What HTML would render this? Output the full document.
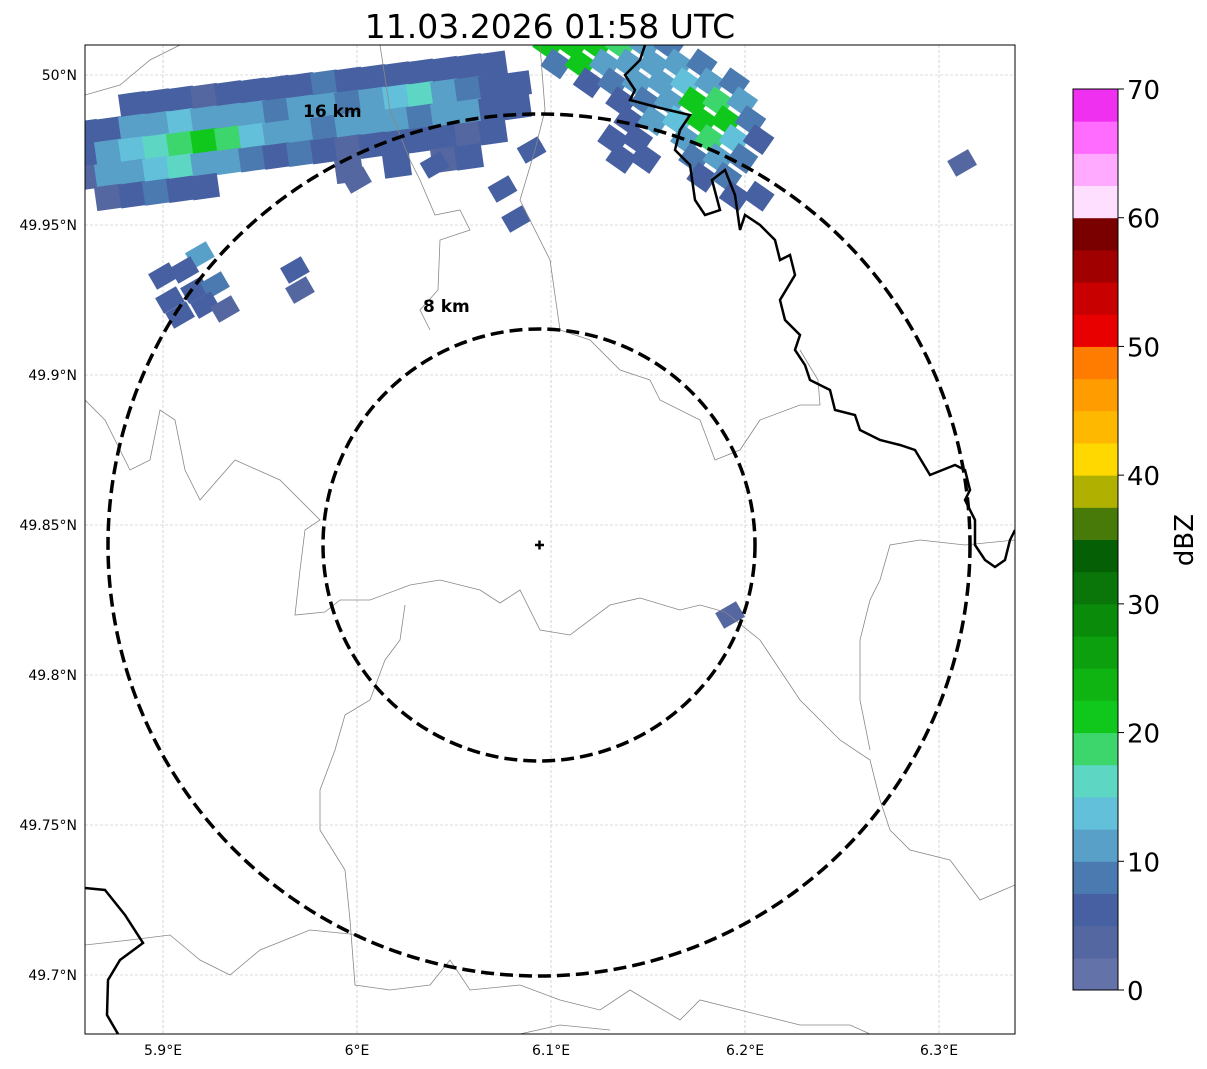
<!DOCTYPE html>
<html><head><meta charset="utf-8"><style>
html,body{margin:0;padding:0;background:#fff;}
svg{display:block;font-family:"DejaVu Sans","Liberation Sans",sans-serif;}
</style></head><body>
<svg id="chart" width="1207" height="1069" viewBox="0 0 1207 1069" xmlns="http://www.w3.org/2000/svg">
<defs><clipPath id="plotclip"><rect x="85" y="45" width="930" height="989"/></clipPath></defs>
<text x="550" y="38" font-size="33" text-anchor="middle">11.03.2026 01:58 UTC</text>
<rect x="85" y="45" width="930" height="989" fill="#fff"/>
<g id="grid"></g>
<g id="radar" clip-path="url(#plotclip)"></g>
<g clip-path="url(#plotclip)" fill="none" stroke="#888" stroke-width="0.8">
<path d="M85,95 L120,85 L150,60 L180,45"/>
<path d="M380,45 L390,110 L410,160 L420,180 L435,215 L460,210 L470,230 L440,240 L438,290 L420,310 L430,330"/>
<path d="M540,45 L545,110 L535,150 L520,200 L550,260 L560,330 L590,340 L620,370 L650,380 L660,400 L700,420 L715,460 L740,450 L760,420 L800,405 L820,405 L818,380 L800,350"/>
<path d="M85,400 L105,420 L130,470 L150,460 L160,410 L175,420 L185,470 L200,500 L235,460 L280,480 L320,520 L305,530 L300,570 L295,615 L325,612 L340,600 L370,600 L410,585 L440,580 L480,590 L500,603 L520,590 L540,630 L570,635 L610,605 L640,598 L680,610 L700,605 L725,612"/>
<path d="M405,605 L400,640 L385,660 L370,700 L345,715 L335,750 L320,790 L320,830 L345,870 L350,920 L355,985 L390,990 L430,985 L450,960 L470,990 L520,985 L560,1000 L600,1010 L630,990 L680,1020 L700,1000 L740,1010 L800,1025 L850,1025 L870,1034"/>
<path d="M85,945 L130,940 L170,935 L200,960 L230,975 L260,950 L310,930 L360,935"/>
<path d="M725,612 L760,640 L800,700 L840,740 L870,760 L880,800 L890,830 L910,850 L950,860 L980,900 L1015,885"/>
<path d="M1015,540 L965,545 L920,540 L890,545 L880,580 L870,600 L860,640 L860,700 L870,750"/>
<path d="M520,1034 L560,1025 L610,1030"/>
</g>
<g clip-path="url(#plotclip)" fill="none" stroke="#000" stroke-width="2.5">
<path d="M645,45 L640,60 L625,75 L635,90 L630,100 L660,108 L690,115 L680,130 L675,150 L690,165 L695,200 L705,215 L720,210 L712,180 L725,170 L735,195 L740,230 L745,215 L760,225 L775,240 L780,260 L790,255 L795,275 L780,300 L785,320 L800,335 L795,350 L805,365 L810,380 L830,390 L835,410 L855,415 L860,430 L880,440 L900,445 L915,450 L930,475 L955,465 L965,470 L970,490 L965,500 L975,520 L975,545 L985,560 L995,567 L1005,560 L1010,540 L1015,530"/>
<path d="M85,888 L105,890 L125,915 L143,943 L120,960 L108,980 L107,1015 L118,1034"/>
</g>
<g fill="none" stroke="#000" stroke-width="3.5" stroke-dasharray="13,6">
<circle cx="539" cy="545" r="216"/>
<circle cx="539" cy="545" r="431"/>
</g>
<path d="M535,545 H544 M539.5,540.5 V549.5" stroke="#000" stroke-width="2.5"/>
<text x="303" y="117" font-size="17" font-weight="bold">16 km</text>
<text x="423" y="312" font-size="17" font-weight="bold">8 km</text>
<rect x="85" y="45" width="930" height="989" fill="none" stroke="#000" stroke-width="1"/>
<g id="axes" font-size="14"></g>
<g id="cbar"></g>
<text x="0" y="0" font-size="26" text-anchor="middle" transform="translate(1193,540) rotate(-90)">dBZ</text>
</svg>
<script>
const lonTicks=[5.9,6.0,6.1,6.2,6.3];
const lonLabels=["5.9°E","6°E","6.1°E","6.2°E","6.3°E"];
const latTicks=[50,49.95,49.9,49.85,49.8,49.75,49.7];
const latLabels=["50°N","49.95°N","49.9°N","49.85°N","49.8°N","49.75°N","49.7°N"];
const cbarTicks=[0,10,20,30,40,50,60,70];
const cbarColors=["#6372a8","#5467a0","#4660a2","#4b7ab0","#58a0c8","#62c0da","#5dd6c4","#3cd66c","#10c81c","#10b412","#0ca00e","#0a8c0a","#0a760a","#055f05","#487a0a","#b0b000","#ffd800","#ffb800","#ff9c00","#ff7c00","#e80000","#c80000","#a00000","#7a0000","#ffdfff","#ffaaff","#ff6cff","#f030f0"];
const bandA=[
[-1,-1,5,6,5,4,6,5,7,6,8,6,5,7,6,5,6,5,-1],
[5,6,10,12,14,12,10,12,8,10,12,9,10,14,16,12,8,6,5],
[6,12,14,15,18,22,19,14,12,10,8,10,12,10,8,12,10,6,5],
[4,10,12,14,15,12,10,8,6,8,6,4,5,6,5,6,4,5,-1],
[-1,4,6,8,6,5,-1,-1,-1,-1,-1,4,-1,5,-1,4,6,-1,-1]];
const bandB=[
[20,22,21,18,10,8,-1,-1],
[8,20,12,10,12,10,8,-1],
[-1,6,8,10,12,14,10,8],
[-1,-1,6,8,12,20,18,10],
[-1,-1,6,10,14,22,20,8],
[-1,5,6,-1,12,18,14,6],
[-1,6,5,-1,8,10,8,-1],
[-1,-1,-1,-1,6,8,-1,-1],
[-1,-1,-1,-1,-1,6,5,-1]];
const cells=[[5.9036,49.925,6],[5.9165,49.9283,5],[5.9268,49.93,8],[5.9088,49.92,6],[5.9216,49.9233,5],[5.932,49.922,4],[5.919,49.94,10],[5.9,49.933,6],[5.911,49.935,7],[5.9706,49.9283,4],[5.968,49.935,5],[6.1923,49.82,4],[6.3119,49.9707,4],[6.075,49.962,5],[6.082,49.952,5],[6.09,49.975,6],[6.04,49.97,5],[6.0,49.965,4]];
const X=lon=>163+(lon-5.9)*1940;
const Y=lat=>75+(50-lat)*3000;
const NS="http://www.w3.org/2000/svg";
const col=v=>cbarColors[Math.max(0,Math.min(27,Math.floor(v/2.5)))];
const radar=document.getElementById('radar');
function cell(lon,lat,v,w,h,rot){
  if(v<0)return;
  const r=document.createElementNS(NS,'rect');
  const x=X(lon),y=Y(lat);
  r.setAttribute('x',x-w/2);r.setAttribute('y',y-h/2);
  r.setAttribute('width',w);r.setAttribute('height',h);
  r.setAttribute('fill',col(v));
  r.setAttribute('transform','rotate('+rot+' '+x+' '+y+')');
  
  
  radar.appendChild(r);
}
bandA.forEach((row,j)=>row.forEach((v,i)=>cell(5.8598+0.01237*i,49.9883+0.0009*i-0.0075*j,v,27,24,-8)));
bandB.forEach((row,c)=>row.forEach((v,r)=>cell(6.0985+0.0125*r+0.0042*c,50.01-0.0063*c,v,24,21,35)));
cells.forEach(c=>cell(c[0],c[1],c[2],24,18,-30));
const grid=document.getElementById('grid'),axes=document.getElementById('axes');
lonTicks.forEach((t,i)=>{
  const x=X(t);
  const l=document.createElementNS(NS,'line');
  l.setAttribute('x1',x);l.setAttribute('x2',x);l.setAttribute('y1',45);l.setAttribute('y2',1034);
  l.setAttribute('stroke','#bbb');l.setAttribute('stroke-width','0.6');l.setAttribute('stroke-dasharray','3,2');
  
  
  grid.appendChild(l);
  const tx=document.createElementNS(NS,'text');
  tx.setAttribute('x',x);tx.setAttribute('y',1055);tx.setAttribute('text-anchor','middle');
  tx.textContent=lonLabels[i];
  
  
  axes.appendChild(tx);
});
latTicks.forEach((t,i)=>{
  const y=Y(t);
  const l=document.createElementNS(NS,'line');
  l.setAttribute('x1',85);l.setAttribute('x2',1015);l.setAttribute('y1',y);l.setAttribute('y2',y);
  l.setAttribute('stroke','#bbb');l.setAttribute('stroke-width','0.6');l.setAttribute('stroke-dasharray','3,2');
  
  
  grid.appendChild(l);
  const tx=document.createElementNS(NS,'text');
  tx.setAttribute('x',77);tx.setAttribute('y',y+5);tx.setAttribute('text-anchor','end');
  tx.textContent=latLabels[i];
  
  
  axes.appendChild(tx);
});
const cb=document.getElementById('cbar');
const cbY=v=>990-(v/70)*901;
cbarColors.forEach((c,i)=>{
  const r=document.createElementNS(NS,'rect');
  const y1=cbY((i+1)*2.5),y0=cbY(i*2.5);
  r.setAttribute('x',1073);r.setAttribute('y',y1);r.setAttribute('width',45);r.setAttribute('height',y0-y1+0.5);
  r.setAttribute('fill',c);
  
  
  cb.appendChild(r);
});
const fr=document.createElementNS(NS,'rect');
fr.setAttribute('x',1073);fr.setAttribute('y',89);fr.setAttribute('width',45);fr.setAttribute('height',901);
fr.setAttribute('fill','none');fr.setAttribute('stroke','#000');fr.setAttribute('stroke-width','1');


cb.appendChild(fr);
cbarTicks.forEach(t=>{
  const y=cbY(t);
  const l=document.createElementNS(NS,'line');
  l.setAttribute('x1',1118);l.setAttribute('x2',1124);l.setAttribute('y1',y);l.setAttribute('y2',y);l.setAttribute('stroke','#000');
  
  
  cb.appendChild(l);
  const tx=document.createElementNS(NS,'text');
  tx.setAttribute('x',1127);tx.setAttribute('y',y+10);tx.setAttribute('font-size','26');
  tx.textContent=t;
  
  
  cb.appendChild(tx);
});
</script>
</body></html>
